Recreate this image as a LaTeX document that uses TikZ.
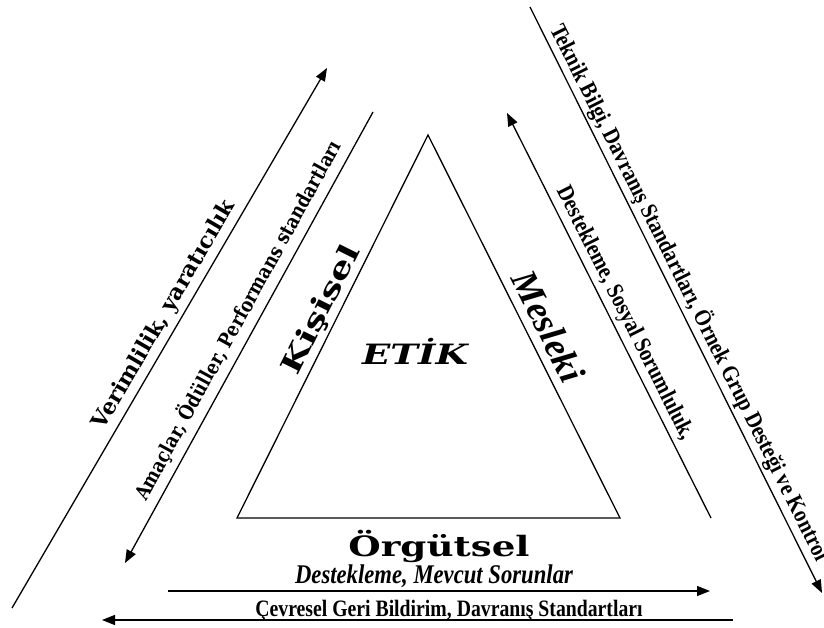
\documentclass[tikz,border=0pt]{standalone}
\usepackage{fontspec}
\setmainfont{Liberation Serif}
% text faces
\newfontfamily\tnr[FakeStretch=0.87]{Liberation Serif}
\newfontfamily\tnrlow[FakeStretch=0.84]{Liberation Serif}
\newfontfamily\tnrit[FakeStretch=0.84]{Liberation Serif}
\newfontfamily\slab[FakeStretch=1.33]{DejaVu Serif}
\newfontfamily\bookwide[FakeStretch=1.0]{DejaVu Serif}
\newfontfamily\booknarrow[FakeStretch=0.86]{DejaVu Serif}
\usetikzlibrary{arrows.meta}

\begin{document}
\begin{tikzpicture}[x=1pt,y=-1pt,
  thin line/.style={line width=1.3pt},
  flow/.style={line width=1.3pt, -{Triangle[length=13pt,width=10pt]}},
  sidelabel/.style={inner sep=0pt, font=\tnr\bfseries\fontsize{23.5}{26}\selectfont},
  leftlabel/.style={inner sep=0pt},
  bigword/.style={inner sep=0pt, font=\slab\bfseries\fontsize{28}{30}\selectfont}]

\useasboundingbox (0,0) rectangle (824,628);

% the triangle
\coordinate (apex) at (428,135);
\coordinate (bl) at (237,518);
\coordinate (br) at (620,518);
\draw[thin line, line join=miter] (apex) -- (bl) -- (br) -- cycle;

% end points of the flows
\coordinate (v1) at (12,608);   \coordinate (v2) at (327,68);
\coordinate (a1) at (373,112);  \coordinate (a2) at (125,563);
\coordinate (s1) at (711,518);  \coordinate (s2) at (507,113);
\coordinate (t1) at (530,7);    \coordinate (t2) at (822,593);
\coordinate (m1) at (168,591);  \coordinate (m2) at (710,591);
\coordinate (c1) at (733,620);  \coordinate (c2) at (102,620);

\draw[flow] (v1) -- (v2);
\draw[flow] (a1) -- (a2);
\draw[flow] (s1) -- (s2);
\draw[flow] (t1) -- (t2);
\draw[flow] (m1) -- (m2);
\draw[flow] (c1) -- (c2);

% labels along the left flows
\node[leftlabel, rotate=59.7, font=\bookwide\bfseries\fontsize{22}{24}\selectfont]
  (verim) at (164.5,315) {Verimlilik, yaratıcılık};
\node[leftlabel, rotate=61.2, font=\booknarrow\bfseries\fontsize{20}{22}\selectfont]
  (amac) at (237.5,320) {Amaçlar, Ödüller, Performans standartları};

% sides of the triangle
\node[bigword, rotate=63.5] (kisisel) at (322,310) {Kişisel};
\node[inner sep=0pt, rotate=-63.4, font=\bfseries\itshape\fontsize{37}{40}\selectfont]
  (mesleki) at (548.5,326.5) {Mesleki};
\node[inner sep=0pt, font=\slab\bfseries\itshape\fontsize{28}{30}\selectfont]
  (etik) at (415,351) {ETİK};

% labels along the right flows
\node[sidelabel, rotate=-63.3] (sosyal) at (624.5,313.5) {Destekleme, Sosyal Sorumluluk,};
\node[sidelabel, rotate=-63.4] (teknik) at (689.5,292.5)
  {Teknik Bilgi, Davranış Standartları, Örnek Grup Desteği ve Kontrol};

% bottom labels
\node[bigword, anchor=base] (orgutsel) at (439,556) {Örgütsel};
\node[inner sep=0pt, anchor=base, font=\tnrit\bfseries\itshape\fontsize{27}{29}\selectfont]
  (mevcut) at (434,583) {Destekleme, Mevcut Sorunlar};
\node[inner sep=0pt, anchor=base, font=\tnrlow\bfseries\fontsize{23.5}{26}\selectfont]
  (cevre) at (449,616) {Çevresel Geri Bildirim, Davranış Standartları};

\end{tikzpicture}
\end{document}
